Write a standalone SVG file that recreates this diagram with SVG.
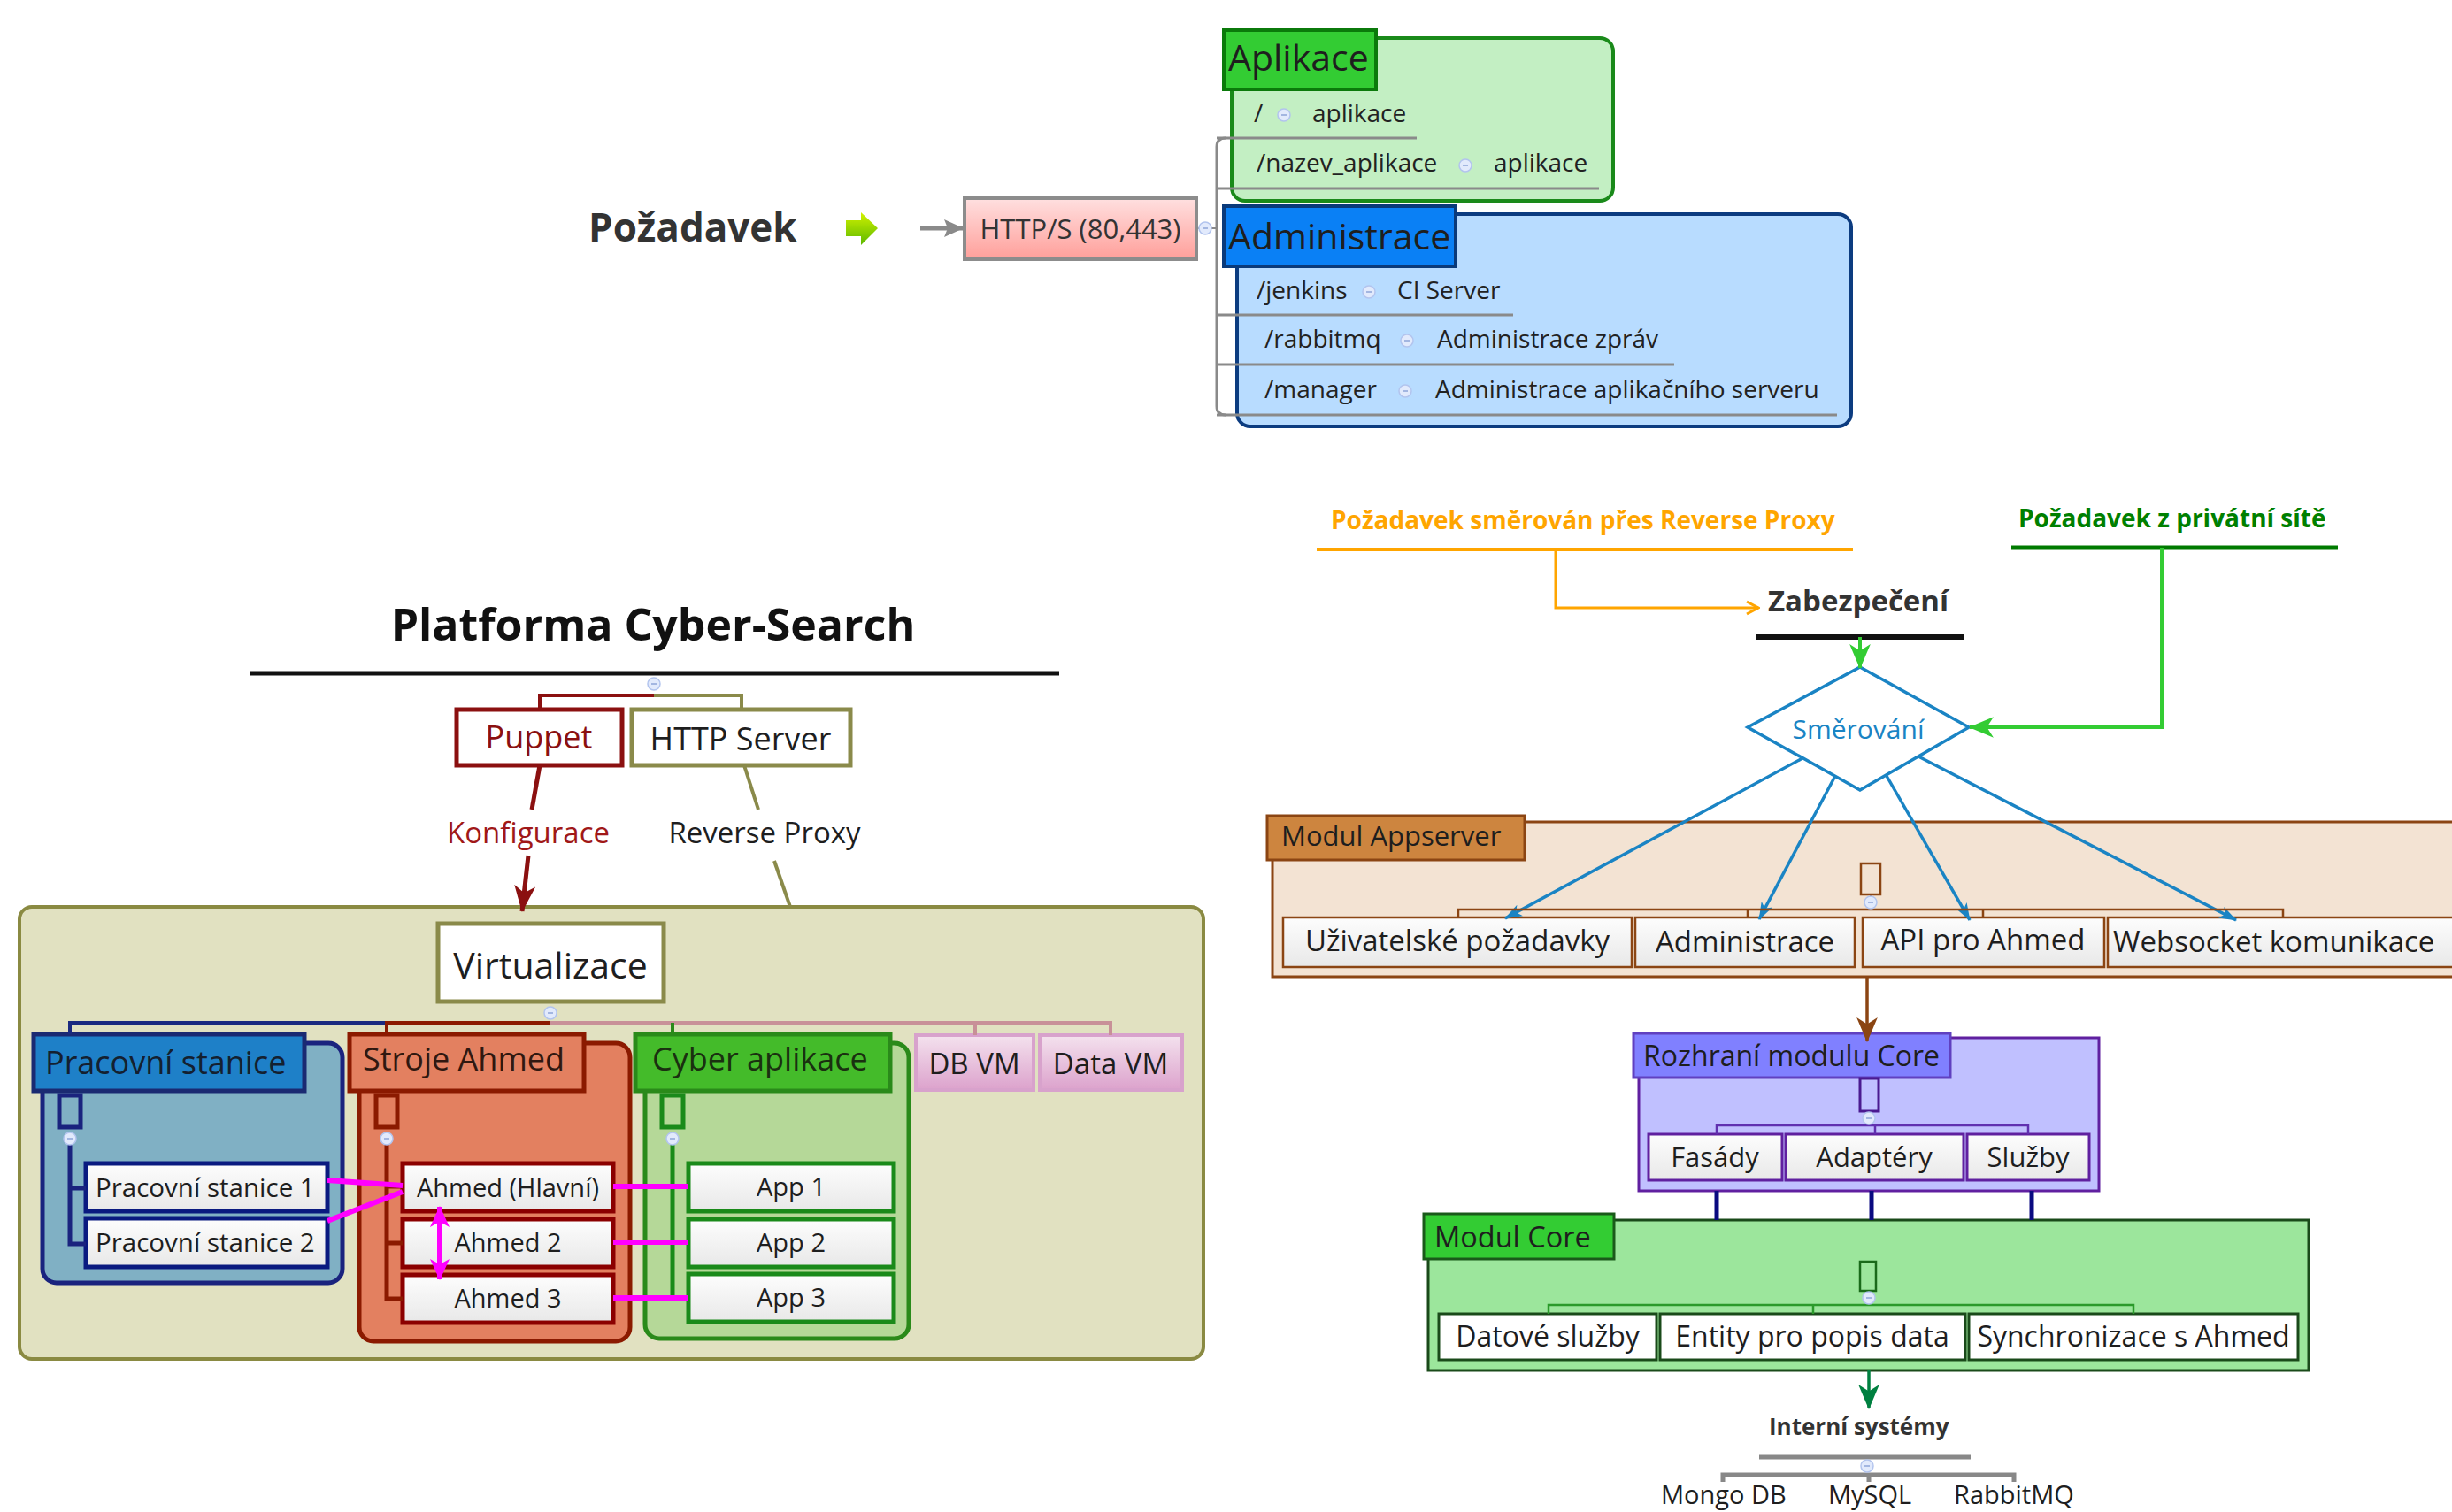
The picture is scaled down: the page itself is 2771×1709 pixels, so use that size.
<svg xmlns="http://www.w3.org/2000/svg" width="2771" height="1709" viewBox="0 0 2771 1709">
<defs>
  <linearGradient id="gBox" x1="0" y1="0" x2="0" y2="1"><stop offset="0" stop-color="#fdfdfd"/><stop offset="1" stop-color="#e8e8e8"/></linearGradient>
  <linearGradient id="gHttp" x1="0" y1="0" x2="0" y2="1"><stop offset="0" stop-color="#ffe0e0"/><stop offset="1" stop-color="#ff9f9a"/></linearGradient>
  <linearGradient id="gVm" x1="0" y1="0" x2="0" y2="1"><stop offset="0" stop-color="#f4e2ee"/><stop offset="1" stop-color="#dca2cc"/></linearGradient>
  <linearGradient id="gArr" x1="0" y1="0" x2="0" y2="1"><stop offset="0" stop-color="#d2f200"/><stop offset="1" stop-color="#5cb800"/></linearGradient>
  <g id="cmin"><circle r="7" fill="#e2eafc" stroke="#b2c4ee" stroke-width="1.5"/><line x1="-3" x2="3" y1="0" y2="0" stroke="#8ea4d8" stroke-width="1.5"/></g>
  <marker id="aOr" viewBox="0 0 20 20" refX="18" refY="10" markerWidth="20" markerHeight="20" markerUnits="userSpaceOnUse" orient="auto"><path d="M5,3 L18,10 L5,17" fill="none" stroke="#ffa500" stroke-width="3"/></marker>
  <marker id="aGr" viewBox="0 0 26 24" refX="25" refY="12" markerWidth="28" markerHeight="26" markerUnits="userSpaceOnUse" orient="auto"><path d="M0,1 L26,12 L0,23 L7,12 z" fill="#33cc33"/></marker>
  <marker id="aBl" viewBox="0 0 20 16" refX="19" refY="8" markerWidth="20" markerHeight="16" markerUnits="userSpaceOnUse" orient="auto"><path d="M0,1 L20,8 L0,15 L5,8 z" fill="#1a84c4"/></marker>
  <marker id="aBr" viewBox="0 0 26 24" refX="25" refY="12" markerWidth="28" markerHeight="26" markerUnits="userSpaceOnUse" orient="auto"><path d="M0,1 L26,12 L0,23 L7,12 z" fill="#8b4513"/></marker>
  <marker id="aDg" viewBox="0 0 26 24" refX="25" refY="12" markerWidth="28" markerHeight="26" markerUnits="userSpaceOnUse" orient="auto"><path d="M0,1 L26,12 L0,23 L7,12 z" fill="#008040"/></marker>
  <marker id="aRd" viewBox="0 0 30 26" refX="29" refY="13" markerWidth="30" markerHeight="26" markerUnits="userSpaceOnUse" orient="auto"><path d="M0,1 L30,13 L0,25 L8,13 z" fill="#8b1010"/></marker>
  <marker id="aMg" viewBox="0 0 24 22" refX="23" refY="11" markerWidth="24" markerHeight="22" markerUnits="userSpaceOnUse" orient="auto-start-reverse"><path d="M0,0 L24,11 L0,22 L6,11 z" fill="#ff00ff"/></marker>
  <marker id="aGy" viewBox="0 0 22 20" refX="21" refY="10" markerWidth="22" markerHeight="20" markerUnits="userSpaceOnUse" orient="auto"><path d="M0,0 L22,10 L0,20 L4,10 z" fill="#8a8a8a"/></marker>
</defs>
<style>
  text{font-family:"Open Sans","Noto Sans","DejaVu Sans",sans-serif;fill:#1e1e1e}
  .b{font-weight:bold}
  .m{text-anchor:middle}
  .box{fill:url(#gBox)}
  .it{font-size:28px;fill:#222}
  .ul{stroke:#8a8a8a;stroke-width:3;fill:none}
</style>
<rect width="2771" height="1709" fill="#ffffff"/>

<!-- ===== TOP: request routing ===== -->
<g id="pozadavek"><text class="b" x="665" y="273" font-size="44" style="fill:#333">Požadavek</text></g>
<g id="pozadavek-icon"><polygon points="956,249 973,249 973,240 992,258 973,277 973,267 956,267" fill="url(#gArr)"/></g>
<g id="http"><rect x="1090" y="224" width="262" height="69" fill="url(#gHttp)" stroke="#8c8c8c" stroke-width="4"/><text class="m" x="1221" y="270" font-size="31" style="fill:#333">HTTP/S (80,443)</text></g>

<g id="aplikace">
  <rect x="1392" y="43" width="431" height="184" rx="15" fill="#c3efc3" stroke="#1a8a1a" stroke-width="4"/>
  <rect x="1383" y="34" width="172" height="67" fill="#33cc33" stroke="#0b7a0b" stroke-width="4"/>
  <text x="1388" y="80" font-size="41">Aplikace</text>
</g>
<g id="administrace">
  <rect x="1398" y="242" width="694" height="240" rx="15" fill="#b8dcff" stroke="#0c3c80" stroke-width="4"/>
  <rect x="1383" y="233" width="262" height="68" fill="#0a80f5" stroke="#0a3a7a" stroke-width="4"/>
  <text x="1388" y="282" font-size="41">Administrace</text>
</g>
<g id="item-root"><text class="it" x="1417" y="138">/</text><use href="#cmin" x="1451" y="130"/><text class="it" x="1483" y="138">aplikace</text></g>
<g id="item-nazev"><text class="it" x="1420" y="194">/nazev_aplikace</text><use href="#cmin" x="1656" y="187"/><text class="it" x="1688" y="194">aplikace</text></g>
<g id="item-jenkins"><text class="it" x="1420" y="338">/jenkins</text><use href="#cmin" x="1547" y="330"/><text class="it" x="1579" y="338">CI Server</text></g>
<g id="item-rabbitmq"><text class="it" x="1429" y="393">/rabbitmq</text><use href="#cmin" x="1590" y="385"/><text class="it" x="1624" y="393">Administrace zpráv</text></g>
<g id="item-manager"><text class="it" x="1429" y="450">/manager</text><use href="#cmin" x="1588" y="442"/><text class="it" x="1622" y="450">Administrace aplikačního serveru</text></g>

<!-- ===== LEFT: platform ===== -->
<g id="platforma">
  <text class="b m" x="738" y="724" font-size="50" style="fill:#111">Platforma Cyber-Search</text>
  <line x1="283" y1="761" x2="1197" y2="761" stroke="#111" stroke-width="5"/>
</g>
<g id="puppet"><rect x="516" y="802" width="187" height="63" fill="#fff" stroke="#8b1010" stroke-width="5"/><text class="m" x="609" y="846" font-size="36" style="fill:#8b1010">Puppet</text></g>
<g id="httpserver"><rect x="714" y="802" width="247" height="63" fill="#fff" stroke="#8a8a4a" stroke-width="5"/><text class="m" x="837" y="848" font-size="36">HTTP Server</text></g>

<g id="virt-area"><rect x="22" y="1025" width="1338" height="511" rx="14" fill="#e1e1c1" stroke="#8a8a42" stroke-width="4"/></g>
<g id="virtualizace"><rect x="495" y="1044" width="255" height="88" fill="#fff" stroke="#8a8a4a" stroke-width="5"/><text class="m" x="622" y="1106" font-size="41">Virtualizace</text></g>

<g id="pracovni">
  <rect x="48" y="1179" width="339" height="271" rx="16" fill="#80b0c4" stroke="#1a237e" stroke-width="5"/>
  <rect x="38" y="1169" width="306" height="64" fill="#1e80c8" stroke="#1a2a72" stroke-width="5"/>
  <text x="51" y="1214" font-size="36" style="fill:#142030">Pracovní stanice</text>
  <rect x="67" y="1238" width="24" height="36" fill="none" stroke="#1a237e" stroke-width="5"/>
</g>
<g id="ps1"><rect x="97" y="1315" width="273" height="54" class="box" stroke="#0a1a80" stroke-width="5"/><text x="108" y="1353" font-size="29.5">Pracovní stanice 1</text></g>
<g id="ps2"><rect x="97" y="1377" width="273" height="55" class="box" stroke="#0a1a80" stroke-width="5"/><text x="108" y="1415" font-size="29.5">Pracovní stanice 2</text></g>

<g id="stroje">
  <rect x="406" y="1179" width="306" height="337" rx="16" fill="#e38060" stroke="#8b1a00" stroke-width="5"/>
  <rect x="395" y="1169" width="265" height="64" fill="#e38060" stroke="#8b1a00" stroke-width="5"/>
  <text x="410" y="1210" font-size="36" style="fill:#301810">Stroje Ahmed</text>
  <rect x="425" y="1238" width="24" height="36" fill="none" stroke="#8b1a00" stroke-width="5"/>
</g>
<g id="ahmed1"><rect x="455" y="1315" width="238" height="54" class="box" stroke="#8b0000" stroke-width="5"/><text class="m" x="574" y="1353" font-size="29">Ahmed (Hlavní)</text></g>
<g id="ahmed2"><rect x="455" y="1378" width="238" height="54" class="box" stroke="#8b0000" stroke-width="5"/><text class="m" x="574" y="1415" font-size="29">Ahmed 2</text></g>
<g id="ahmed3"><rect x="455" y="1441" width="238" height="54" class="box" stroke="#8b0000" stroke-width="5"/><text class="m" x="574" y="1478" font-size="29">Ahmed 3</text></g>

<g id="cyber">
  <rect x="729" y="1179" width="298" height="334" rx="16" fill="#b5d898" stroke="#2a8a1a" stroke-width="5"/>
  <rect x="718" y="1169" width="288" height="64" fill="#44bb2a" stroke="#2a8a1a" stroke-width="5"/>
  <text x="737" y="1210" font-size="36" style="fill:#1a3010">Cyber aplikace</text>
  <rect x="748" y="1238" width="24" height="36" fill="none" stroke="#1a8a1a" stroke-width="5"/>
</g>
<g id="app1"><rect x="778" y="1315" width="232" height="54" class="box" stroke="#1a8a1a" stroke-width="5"/><text class="m" x="894" y="1352" font-size="29">App 1</text></g>
<g id="app2"><rect x="778" y="1378" width="232" height="54" class="box" stroke="#1a8a1a" stroke-width="5"/><text class="m" x="894" y="1415" font-size="29">App 2</text></g>
<g id="app3"><rect x="778" y="1440" width="232" height="54" class="box" stroke="#1a8a1a" stroke-width="5"/><text class="m" x="894" y="1477" font-size="29">App 3</text></g>

<g id="dbvm"><rect x="1035" y="1170" width="133" height="62" fill="url(#gVm)" stroke="#d8a2cc" stroke-width="4"/><text class="m" x="1101" y="1214" font-size="33">DB VM</text></g>
<g id="datavm"><rect x="1175" y="1170" width="161" height="62" fill="url(#gVm)" stroke="#d8a2cc" stroke-width="4"/><text class="m" x="1255" y="1214" font-size="33">Data VM</text></g>

<!-- ===== RIGHT: flow ===== -->
<g id="req-proxy"><text class="b" x="1504" y="598" font-size="28" style="fill:#ffa500">Požadavek směrován přes Reverse Proxy</text><line x1="1488" y1="621" x2="2094" y2="621" stroke="#ffa500" stroke-width="4"/></g>
<g id="req-private"><text class="b" x="2281" y="596" font-size="28" style="fill:#008000">Požadavek z privátní sítě</text><line x1="2273" y1="619" x2="2642" y2="619" stroke="#007a00" stroke-width="5"/></g>
<g id="zabezpeceni"><text class="b" x="1998" y="691" font-size="33" style="fill:#333">Zabezpečení</text><line x1="1985" y1="720" x2="2220" y2="720" stroke="#111" stroke-width="6"/></g>
<g id="smerovani"><polygon points="2102,754 2225,822 2102,893 1975,822" fill="#fff" stroke="#1a84c4" stroke-width="3.5"/><text class="m" x="2100" y="835" font-size="30" style="fill:#1a84c4">Směrování</text></g>

<g id="appserver">
  <rect x="1438" y="929" width="1360" height="175" fill="#f3e3d3" stroke="#8b4513" stroke-width="3"/>
  <rect x="1432" y="922" width="291" height="50" fill="#cd853f" stroke="#8b4513" stroke-width="3"/>
  <text x="1448" y="956" font-size="31">Modul Appserver</text>
  <rect x="2103" y="976" width="22" height="35" fill="none" stroke="#8b4513" stroke-width="2.5"/>
</g>
<g id="uziv"><rect x="1450" y="1037" width="394" height="56" class="box" stroke="#8b4513" stroke-width="2.5"/><text class="m" x="1647" y="1075" font-size="33">Uživatelské požadavky</text></g>
<g id="admin2"><rect x="1848" y="1037" width="248" height="56" class="box" stroke="#8b4513" stroke-width="2.5"/><text class="m" x="1972" y="1076" font-size="33">Administrace</text></g>
<g id="api"><rect x="2105" y="1037" width="273" height="56" class="box" stroke="#8b4513" stroke-width="2.5"/><text class="m" x="2241" y="1074" font-size="33">API pro Ahmed</text></g>
<g id="websocket"><rect x="2382" y="1037" width="420" height="56" class="box" stroke="#8b4513" stroke-width="2.5"/><text x="2388" y="1076" font-size="33">Websocket komunikace</text></g>

<g id="rozhrani">
  <rect x="1852" y="1173" width="520" height="173" fill="#c0c0ff" stroke="#6020a0" stroke-width="3"/>
  <rect x="1846" y="1168" width="358" height="50" fill="#8080ff" stroke="#6040c0" stroke-width="3"/>
  <text x="1857" y="1205" font-size="32">Rozhraní modulu Core</text>
  <rect x="2102" y="1219" width="21" height="37" fill="none" stroke="#4a1a90" stroke-width="3"/>
</g>
<g id="fasady"><rect x="1863" y="1282" width="151" height="52" class="box" stroke="#6020a0" stroke-width="3"/><text class="m" x="1938" y="1319" font-size="31">Fasády</text></g>
<g id="adaptery"><rect x="2018" y="1282" width="201" height="52" class="box" stroke="#6020a0" stroke-width="3"/><text class="m" x="2118" y="1319" font-size="31">Adaptéry</text></g>
<g id="sluzby"><rect x="2223" y="1282" width="138" height="52" class="box" stroke="#6020a0" stroke-width="3"/><text class="m" x="2292" y="1319" font-size="31">Služby</text></g>

<g id="core">
  <rect x="1614" y="1379" width="995" height="170" fill="#9ce69c" stroke="#1a4a1a" stroke-width="3"/>
  <rect x="1609" y="1372" width="215" height="51" fill="#33cc33" stroke="#1a5a1a" stroke-width="3"/>
  <text x="1621" y="1410" font-size="32.5">Modul Core</text>
  <rect x="2102" y="1426" width="18" height="33" fill="none" stroke="#1a6a1a" stroke-width="2.5"/>
</g>
<g id="datove"><rect x="1626" y="1485" width="246" height="52" fill="#fff" stroke="#1a4a1a" stroke-width="3"/><text class="m" x="1749" y="1522" font-size="32">Datové služby</text></g>
<g id="entity"><rect x="1876" y="1485" width="345" height="52" fill="#fff" stroke="#1a4a1a" stroke-width="3"/><text class="m" x="2048" y="1522" font-size="32">Entity pro popis data</text></g>
<g id="sync"><rect x="2225" y="1485" width="372" height="52" fill="#fff" stroke="#1a4a1a" stroke-width="3"/><text class="m" x="2411" y="1522" font-size="32">Synchronizace s Ahmed</text></g>

<g id="interni"><text class="b" x="1999" y="1622" font-size="26" style="fill:#333">Interní systémy</text><line x1="1988" y1="1647" x2="2227" y2="1647" stroke="#888" stroke-width="5"/></g>
<g id="mongo"><text x="1877" y="1700" font-size="29">Mongo DB</text></g>
<g id="mysql"><text x="2066" y="1700" font-size="29">MySQL</text></g>
<g id="rabbit"><text x="2208" y="1700" font-size="29">RabbitMQ</text></g>

<!-- ===== CONNECTORS ===== -->
<g id="connectors" fill="none">
  <!-- top -->
  <line x1="1040" y1="258" x2="1088" y2="258" stroke="#8a8a8a" stroke-width="5" marker-end="url(#aGy)"/>
  <line x1="1352" y1="258" x2="1375" y2="258" stroke="#8a8a8a" stroke-width="2"/>
  <path d="M1385,156 Q1375,156 1375,166 V459 Q1375,469 1385,469" stroke="#8a8a8a" stroke-width="3"/>
  <line class="ul" x1="1375" y1="156" x2="1601" y2="156"/>
  <line class="ul" x1="1375" y1="213" x2="1807" y2="213"/>
  <line class="ul" x1="1375" y1="356" x2="1710" y2="356"/>
  <line class="ul" x1="1375" y1="412" x2="1892" y2="412"/>
  <line class="ul" x1="1375" y1="469" x2="2076" y2="469"/>
  <use href="#cmin" x="1362" y="258"/>

  <!-- platform tree -->
  <path d="M739,786 H838 V802" stroke="#8a8a4a" stroke-width="4"/>
  <path d="M739,786 H610 V802" stroke="#8b1010" stroke-width="4"/>
  <use href="#cmin" x="739" y="773"/>
  <line x1="610" y1="865" x2="601" y2="915" stroke="#8b1010" stroke-width="5"/>
  <line x1="597" y1="967" x2="590" y2="1030" stroke="#8b1010" stroke-width="5" marker-end="url(#aRd)"/>
  <text class="m" x="597" y="953" font-size="33" style="fill:#a01818">Konfigurace</text>
  <line x1="841" y1="865" x2="857" y2="915" stroke="#8a8a4a" stroke-width="4"/>
  <line x1="875" y1="973" x2="893" y2="1025" stroke="#8a8a4a" stroke-width="4"/>
  <text class="m" x="864" y="953" font-size="33">Reverse Proxy</text>

  <path d="M622,1156 H1255 V1170 M1102,1156 V1170" stroke="#c89098" stroke-width="4"/>
  <line x1="760" y1="1156" x2="760" y2="1169" stroke="#2a8a1a" stroke-width="4"/>
  <path d="M622,1156 H79 V1169" stroke="#1a2a80" stroke-width="4"/>
  <path d="M622,1156 H437 V1169" stroke="#8b1a00" stroke-width="4"/>
  <use href="#cmin" x="622" y="1145"/>

  <path d="M79,1294 V1406 H97 M79,1343 H97" stroke="#1a237e" stroke-width="5"/>
  <path d="M437,1294 V1468 H455 M437,1341 H455 M437,1405 H455" stroke="#8b1a00" stroke-width="5"/>
  <path d="M760,1294 V1467 H778 M760,1341 H778 M760,1404 H778" stroke="#1a8a1a" stroke-width="5"/>
  <use href="#cmin" x="79" y="1287"/>
  <use href="#cmin" x="437" y="1287"/>
  <use href="#cmin" x="760" y="1287"/>

  <g stroke="#ff00ff" stroke-width="6">
    <line x1="370" y1="1334" x2="455" y2="1340"/>
    <line x1="370" y1="1380" x2="455" y2="1347"/>
    <line x1="693" y1="1341" x2="778" y2="1341"/>
    <line x1="693" y1="1404" x2="778" y2="1404"/>
    <line x1="693" y1="1467" x2="778" y2="1467"/>
    <line x1="497" y1="1364" x2="497" y2="1446" marker-start="url(#aMg)" marker-end="url(#aMg)"/>
  </g>

  <!-- flow -->
  <path d="M1758,621 V687 H1987" stroke="#ffa500" stroke-width="3" marker-end="url(#aOr)"/>
  <line x1="2102" y1="720" x2="2102" y2="755" stroke="#33cc33" stroke-width="4" marker-end="url(#aGr)"/>
  <path d="M2443,619 V822 H2226" stroke="#33cc33" stroke-width="4" marker-end="url(#aGr)"/>
  <g stroke="#1a84c4" stroke-width="3.5">
    <line x1="2037" y1="857" x2="1701" y2="1038" marker-end="url(#aBl)"/>
    <line x1="2074" y1="877" x2="1988" y2="1039" marker-end="url(#aBl)"/>
    <line x1="2132" y1="877" x2="2226" y2="1040" marker-end="url(#aBl)"/>
    <line x1="2168" y1="855" x2="2527" y2="1040" marker-end="url(#aBl)"/>
  </g>
  <path d="M1648,1037 V1028 H2580 V1037 M1975,1028 V1037 M2241,1028 V1037" stroke="#8b4513" stroke-width="2.5"/>
  <line x1="2114" y1="1011" x2="2114" y2="1028" stroke="#8b4513" stroke-width="2"/>
  <use href="#cmin" x="2114" y="1020"/>
  <line x1="2110" y1="1104" x2="2110" y2="1177" stroke="#8b4513" stroke-width="3.5" marker-end="url(#aBr)"/>

  <path d="M1940,1282 V1272 H2292 V1282 M2119,1272 V1282" stroke="#6030b0" stroke-width="2.5"/>
  <use href="#cmin" x="2112" y="1264"/>
  <g stroke="#0a0a80" stroke-width="5">
    <line x1="1940" y1="1346" x2="1940" y2="1379"/>
    <line x1="2115" y1="1346" x2="2115" y2="1379"/>
    <line x1="2296" y1="1346" x2="2296" y2="1379"/>
  </g>
  <path d="M1750,1485 V1475 H2411 V1485 M2049,1475 V1485" stroke="#2a9a2a" stroke-width="2.5"/>
  <use href="#cmin" x="2112" y="1467"/>
  <line x1="2112" y1="1549" x2="2112" y2="1592" stroke="#008040" stroke-width="3.5" marker-end="url(#aDg)"/>

  <path d="M1947,1675 V1667 H2276 V1675 M2112,1667 V1675" stroke="#888" stroke-width="5"/>
  <use href="#cmin" x="2110" y="1657"/>
</g>
</svg>
